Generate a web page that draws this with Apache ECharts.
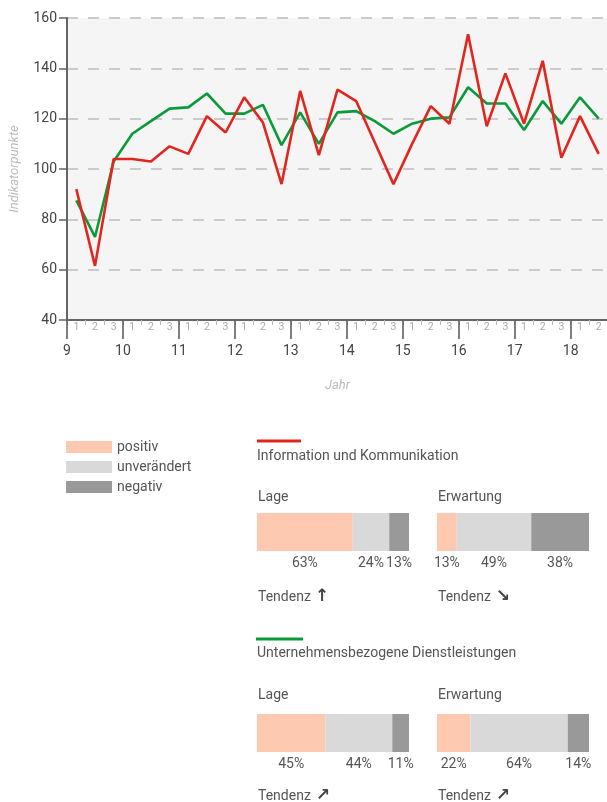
<!DOCTYPE html>
<html><head><meta charset="utf-8">
<script src="https://cdn.jsdelivr.net/npm/echarts@6/dist/echarts.min.js"></script>
<style>html,body{margin:0;padding:0;background:#fff}#c{width:607px;height:802px}</style>
</head><body><div id="c"></div><script>
// ---- data ----
const yearLabels = ['9','10','11','12','13','14','15','16','17','18'];
const periodLabels = ['1','2','3','1','2','3','1','2','3','1','2','3','1','2','3','1','2','3','1','2','3','1','2','3','1','2','3','1','2'];
const infoKomm = [92,61.5,104,104,103,109,106,121,114.5,128.5,118.5,94,131,105.5,131.5,127,110.5,94,110,125,118,153.5,117,138,118,143,104.5,121,106];
const dienst = [87.5,73,103,114,119,124,124.5,130,122,122,125.5,109.5,122.5,110,122.5,123,119,114,118,120,120.5,132.5,126,126,115.5,127,118,128.5,120];
const yTicks = {min:40, max:160, interval:20};
const segNames = ['positiv','unverändert','negativ'];
const ikLage = [63,24,13];
const ikErw = [13,49,38];
const udLage = [45,44,11];
const udErw = [22,64,14];
const ikTitle = 'Information und Kommunikation';
const udTitle = 'Unternehmensbezogene Dienstleistungen';
const ikTrend = ['↑','↘'];
const udTrend = ['↗','↗'];

// ---- styles ----
const RED = '#e2261d', GREEN = '#0a9a3a';
const segColors = ['#fdcab1','#d9d9d9','#999999'];
const FONT = 'Roboto';
const TXT = '#555';

const chart = echarts.init(document.getElementById('c'), null, {renderer:'canvas'});

const barGrids = [
  {left:257, top:513, width:152, height:38, data:ikLage},
  {left:437, top:513, width:152, height:38, data:ikErw},
  {left:257, top:714, width:152, height:38, data:udLage},
  {left:437, top:714, width:152, height:38, data:udErw}
];

const grids = [{left:67, top:18, right:-1, height:302, show:true, backgroundColor:'#f5f5f5', borderWidth:0, containLabel:false, outerBoundsMode:'none'}];
const xAxes = [
  {type:'category', gridIndex:0, data:periodLabels, boundaryGap:true, position:'bottom',
   axisLine:{show:true, lineStyle:{color:'#666', width:2}},
   axisTick:{show:true, length:5, lineStyle:{color:'#bbb', width:1}},
   axisLabel:{interval:0, fontSize:10.5, color:'#aaa', margin:2, fontFamily:FONT},
   splitLine:{show:false}},
  {type:'value', gridIndex:0, min:0, max:periodLabels.length, interval:3, position:'bottom',
   axisLine:{show:false},
   axisTick:{show:true, length:19, lineStyle:{color:'#555', width:1.5}},
   axisLabel:{fontSize:14, color:'#444', margin:24, fontFamily:FONT,
     formatter: v => (v % 3 === 0 && yearLabels[v/3] !== undefined) ? yearLabels[v/3] : ''},
   splitLine:{show:false},
   name:'Jahr', nameLocation:'middle', nameGap:59,
   nameTextStyle:{fontStyle:'italic', color:'#bbb', fontSize:13, fontFamily:FONT}}
];
const yAxes = [
  {type:'value', gridIndex:0, min:yTicks.min, max:yTicks.max, interval:yTicks.interval,
   axisLine:{show:true, lineStyle:{color:'#666', width:2}},
   axisTick:{show:true, length:8, lineStyle:{color:'#666', width:1.5}},
   axisLabel:{fontSize:14, color:'#444', margin:10, fontFamily:FONT},
   splitLine:{show:true, lineStyle:{color:'#bdbdbd', width:1.5, type:[11,10]}},
   name:'Indikatorpunkte', nameLocation:'middle', nameGap:46,
   nameTextStyle:{fontStyle:'italic', color:'#bbb', fontSize:13, fontFamily:FONT}}
];
const series = [
  {name:udTitle, type:'line', xAxisIndex:0, yAxisIndex:0, data:dienst, symbol:'none',
   lineStyle:{color:GREEN, width:2.6}, itemStyle:{color:GREEN}, z:3},
  {name:ikTitle, type:'line', xAxisIndex:0, yAxisIndex:0, data:infoKomm, symbol:'none',
   lineStyle:{color:RED, width:2.6}, itemStyle:{color:RED}, z:4}
];
barGrids.forEach((g, k) => {
  const gi = k + 1;
  grids.push({left:g.left, top:g.top, width:g.width, height:g.height, containLabel:false, outerBoundsMode:'none'});
  xAxes.push({type:'value', gridIndex:gi, min:0, max:100, show:false});
  yAxes.push({type:'category', gridIndex:gi, data:['a'], show:false});
  g.data.forEach((v, j) => {
    series.push({name:segNames[j], type:'bar', stack:'s'+gi, xAxisIndex:gi+1, yAxisIndex:gi,
      data:[v], barWidth:g.height, itemStyle:{color:segColors[j]},
      label:{show:true, position:'bottom', distance:5, formatter:'{c}%', fontSize:14, color:TXT, fontFamily:FONT},
      silent:true});
  });
});

function txt(x, y, s, extra) {
  return {type:'text', x:x, y:y, style:Object.assign({text:s, fill:TXT, fontSize:14, fontFamily:FONT, verticalAlign:'middle', textVerticalAlign:'middle'}, extra||{})};
}
function arrow(x, y, s) {
  return {type:'text', x:x, y:y, style:{text:s, fill:'#444', fontSize:17, fontWeight:'bold', fontFamily:'DejaVu Sans', verticalAlign:'middle', textVerticalAlign:'middle'}};
}
const graphics = [
  {type:'line', shape:{x1:257, y1:441, x2:301, y2:441}, style:{stroke:RED, lineWidth:3}},
  txt(257, 456, ikTitle),
  txt(258, 497, 'Lage'), txt(438, 497, 'Erwartung'),
  txt(258, 597, 'Tendenz'), arrow(315, 597, ikTrend[0]),
  txt(438, 597, 'Tendenz'), arrow(496, 597, ikTrend[1]),
  {type:'line', shape:{x1:256, y1:639, x2:303, y2:639}, style:{stroke:GREEN, lineWidth:3}},
  txt(257, 653, udTitle),
  txt(258, 695, 'Lage'), txt(438, 695, 'Erwartung'),
  txt(258, 796, 'Tendenz'), arrow(316, 796, udTrend[0]),
  txt(438, 796, 'Tendenz'), arrow(496, 796, udTrend[1])
];

chart.setOption({
  animation:false,
  textStyle:{fontFamily:FONT},
  grid:grids, xAxis:xAxes, yAxis:yAxes, series:series,
  legend:{data:segNames.map(n => ({name:n, icon:'rect'})), orient:'vertical', left:66, top:440, padding:0,
    itemWidth:46, itemHeight:12, itemGap:6, selectedMode:false,
    textStyle:{fontSize:14, color:TXT, fontFamily:FONT}},
  graphic:graphics
});
</script></body></html>
